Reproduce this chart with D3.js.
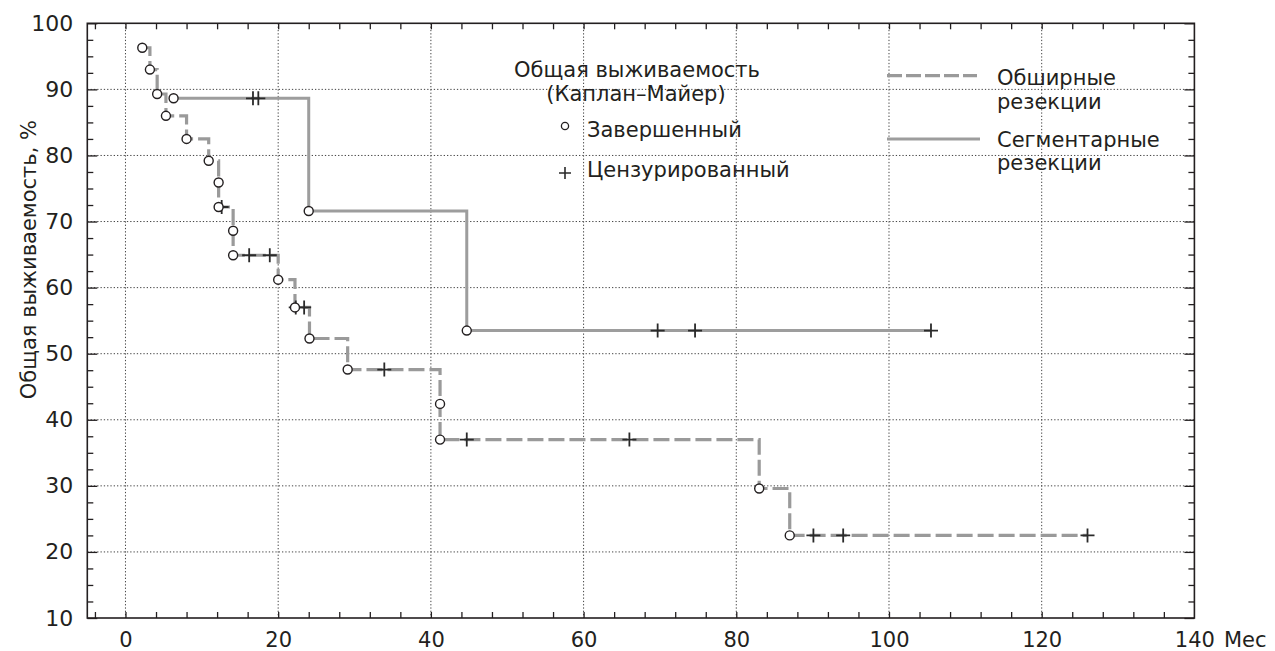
<!DOCTYPE html>
<html>
<head>
<meta charset="utf-8">
<script src="https://cdn.jsdelivr.net/npm/d3@7"></script>
<style>
  body { margin: 0; background: #fff; }
  svg text { font-family: "DejaVu Sans", sans-serif; fill: #231f20; }
</style>
</head>
<body>
<svg width="1275" height="651"></svg>
<script>
// Extensive resections (dashed): event times (circles) and survival after each event
var wideTimes = [2.2, 3.2, 4.15, 5.3, 8.0, 10.9, 12.2, 12.2, 14.1, 14.1, 20.0, 22.2, 24.1, 29.1, 41.2, 41.2, 83.0, 87.0];
var wideSurv = [96.3, 93.0, 89.3, 86.0, 82.5, 79.2, 75.9, 72.2, 68.6, 64.9, 61.2, 57.0, 52.3, 47.6, 42.4, 37.0, 29.6, 22.5];
var wideCensored = [12.6, 16.2, 18.9, 22.3, 23.4, 33.9, 44.7, 66.0, 90.1, 94.0, 126.0];

// Segmental resections (solid)
var segTimes = [6.3, 24.0, 44.7];
var segSurv = [88.65, 71.6, 53.5];
var segCensored = [16.7, 17.4, 69.7, 74.6, 105.5];

var xTicks = [0, 20, 40, 60, 80, 100, 120, 140];
var yTicks = [10, 20, 30, 40, 50, 60, 70, 80, 90, 100];

var svg = d3.select("svg");
var pLeft = 87.3, pRight = 1194.4, pTop = 23.3, pBottom = 618;

var x = d3.scaleLinear().domain([-5, 140]).range([pLeft, pRight]);
var y = d3.scaleLinear().domain([10, 100]).range([pBottom, pTop]);

var minorX = d3.range(-4, 140, 4);
var minorY = d3.range(12.5, 100, 2.5).filter(function (v) { return v % 10 != 0; });

// grid
var grid = svg.append("g");
grid.selectAll(".gx").data(xTicks.filter(function (v) { return v < 140; }))
  .enter().append("line")
  .attr("x1", function (d) { return x(d); }).attr("x2", function (d) { return x(d); })
  .attr("y1", pTop).attr("y2", pBottom)
  .attr("stroke", "#444").attr("stroke-width", 1).attr("stroke-dasharray", "1.3,2");
grid.selectAll(".gy").data(yTicks.filter(function (v) { return v > 10 && v < 100; }))
  .enter().append("line")
  .attr("y1", function (d) { return y(d); }).attr("y2", function (d) { return y(d); })
  .attr("x1", pLeft).attr("x2", pRight)
  .attr("stroke", "#444").attr("stroke-width", 1).attr("stroke-dasharray", "1.3,2");

// axes (ticks point inward)
function styleAxis(fontFamily, size) {
  return function (g) {
    g.select(".domain").remove();
    g.selectAll("line").attr("stroke", "#231f20").attr("stroke-width", 1.3);
    g.selectAll("text").attr("font-size", size).attr("fill", "#231f20")
      .attr("font-family", fontFamily);
  };
}
var plain = styleAxis("DejaVu Sans", 21);
svg.append("g").attr("transform", "translate(0," + pBottom + ")")
  .call(d3.axisBottom(x).tickValues(minorX).tickSize(-6).tickFormat(""))
  .call(plain);
svg.append("g").attr("transform", "translate(0," + pTop + ")")
  .call(d3.axisTop(x).tickValues(minorX).tickSize(-6).tickFormat(""))
  .call(plain);
svg.append("g").attr("transform", "translate(" + pLeft + ",0)")
  .call(d3.axisLeft(y).tickValues(minorY).tickSize(-6).tickFormat(""))
  .call(plain);
svg.append("g").attr("transform", "translate(" + pRight + ",0)")
  .call(d3.axisRight(y).tickValues(minorY).tickSize(-6).tickFormat(""))
  .call(plain);
svg.append("g").attr("transform", "translate(" + pLeft + ",0)")
  .call(d3.axisLeft(y).tickValues(yTicks).tickSize(-10).tickPadding(14).tickFormat(d3.format("d")))
  .call(styleAxis("Liberation Sans, Arial, sans-serif", 22));
svg.append("g").attr("transform", "translate(" + pRight + ",0)")
  .call(d3.axisRight(y).tickValues(yTicks).tickSize(-10).tickFormat(""))
  .call(plain);
svg.append("g").attr("transform", "translate(0," + pBottom + ")")
  .call(d3.axisBottom(x).tickValues(xTicks).tickSize(0).tickPadding(14).tickFormat(d3.format("d")))
  .call(plain);

// frame
svg.append("rect").attr("x", pLeft).attr("y", pTop)
  .attr("width", pRight - pLeft).attr("height", pBottom - pTop)
  .attr("fill", "none").attr("stroke", "#231f20").attr("stroke-width", 1.6);

svg.append("text").attr("x", 1224).attr("y", 647).attr("font-size", 21).text("Мес");
svg.append("text")
  .attr("transform", "translate(36,120) rotate(-90)")
  .attr("text-anchor", "end").attr("font-size", 21)
  .text("Общая выживаемость, %");

// Kaplan-Meier step curves
function stepPath(times, surv, endTime) {
  var d = "M" + x(times[0]) + "," + y(surv[0]);
  for (var i = 1; i < times.length; i++) {
    d += "H" + x(times[i]) + "V" + y(surv[i]);
  }
  d += "H" + x(endTime);
  return d;
}
function survAt(times, surv, t) {
  var s = surv[0];
  for (var i = 0; i < times.length; i++) { if (times[i] <= t) s = surv[i]; }
  return s;
}

var curves = svg.append("g");
curves.append("path")
  .attr("d", stepPath(segTimes, segSurv, d3.max(segCensored)))
  .attr("fill", "none").attr("stroke", "#9d9d9d").attr("stroke-width", 3);
curves.append("path")
  .attr("d", stepPath(wideTimes, wideSurv, d3.max(wideCensored)))
  .attr("fill", "none").attr("stroke", "#9a9a9a").attr("stroke-width", 3.2)
  .attr("stroke-dasharray", "16,5");

function drawCross(g, cx, cy, h) {
  g.append("path")
    .attr("d", "M" + (cx - h) + "," + cy + "H" + (cx + h) + "M" + cx + "," + (cy - h) + "V" + (cy + h))
    .attr("stroke", "#2a2a2a").attr("stroke-width", 1.8).attr("fill", "none");
}

var marks = svg.append("g");
[[segTimes, segSurv, segCensored], [wideTimes, wideSurv, wideCensored]].forEach(function (s) {
  s[2].forEach(function (t) {
    drawCross(marks, x(t), y(survAt(s[0], s[1], t)), 7);
  });
});
[[segTimes, segSurv], [wideTimes, wideSurv]].forEach(function (s) {
  marks.selectAll(null).data(d3.range(s[0].length)).enter().append("circle")
    .attr("cx", function (i) { return x(s[0][i]); })
    .attr("cy", function (i) { return y(s[1][i]); })
    .attr("r", 4.5)
    .attr("fill", "#fff").attr("stroke", "#231f20").attr("stroke-width", 1.4);
});

// legend
var leg = svg.append("g");
leg.append("text").attr("x", 637).attr("y", 77).attr("text-anchor", "middle")
  .attr("font-size", 21).text("Общая выживаемость");
leg.append("text").attr("x", 636).attr("y", 101).attr("text-anchor", "middle")
  .attr("font-size", 21).text("(Каплан–Майер)");
leg.append("circle").attr("cx", 565).attr("cy", 126).attr("r", 3.6)
  .attr("fill", "#fff").attr("stroke", "#231f20").attr("stroke-width", 1.3);
leg.append("text").attr("x", 587).attr("y", 137).attr("font-size", 21).text("Завершенный");
leg.append("path").attr("d", "M559,173H571M565,167V179")
  .attr("stroke", "#2a2a2a").attr("stroke-width", 1.6);
leg.append("text").attr("x", 587).attr("y", 177).attr("font-size", 21).text("Цензурированный");

leg.append("line").attr("x1", 887).attr("x2", 977).attr("y1", 75.7).attr("y2", 75.7)
  .attr("stroke", "#9a9a9a").attr("stroke-width", 3.2).attr("stroke-dasharray", "15,4");
leg.append("text").attr("x", 997).attr("y", 85).attr("font-size", 21).text("Обширные");
leg.append("text").attr("x", 997).attr("y", 109).attr("font-size", 21).text("резекции");
leg.append("line").attr("x1", 887).attr("x2", 980).attr("y1", 139).attr("y2", 139)
  .attr("stroke", "#9d9d9d").attr("stroke-width", 3);
leg.append("text").attr("x", 997).attr("y", 147).attr("font-size", 21).text("Сегментарные");
leg.append("text").attr("x", 997).attr("y", 170).attr("font-size", 21).text("резекции");
</script>
</body>
</html>
